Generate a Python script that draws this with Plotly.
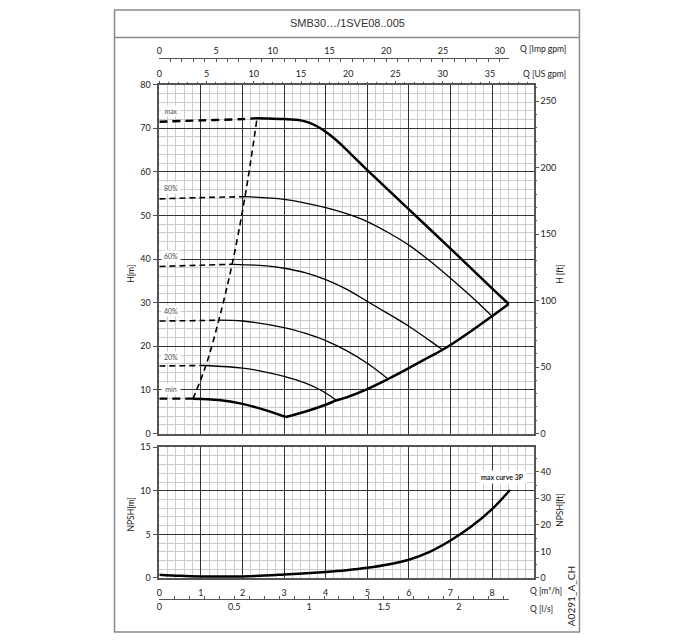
import plotly.graph_objects as go

W, H = 682, 640

# ---------------- data (Q in m3/h, H in m) ----------------
max_dash_q = [0.0, 1.0, 2.0, 2.35]
max_dash_h = [71.5, 71.8, 72.1, 72.3]
max_q = [2.35, 3.0, 3.4, 3.6, 3.8, 4.0, 4.2, 4.4, 4.6, 5.0, 6.0, 7.0, 8.0, 8.4]
max_h = [72.3, 72.1, 71.8, 71.3, 70.4, 69.2, 67.7, 66.0, 64.1, 60.4, 51.4, 42.4, 33.3, 29.7]

p80_dash_q = [0.0, 1.0, 2.06]
p80_dash_h = [53.8, 54.1, 54.3]
p80_q = [2.06, 3.0, 4.0, 4.5, 5.0, 5.5, 6.0, 6.5, 7.0, 7.5, 8.0]
p80_h = [54.3, 53.7, 51.8, 50.4, 48.6, 46.1, 43.2, 39.6, 35.6, 31.4, 26.9]

p60_dash_q = [0.0, 1.0, 1.75]
p60_dash_h = [38.3, 38.6, 38.8]
p60_q = [1.75, 2.5, 3.0, 3.5, 4.0, 4.5, 5.0, 5.5, 6.0, 6.5, 6.81]
p60_h = [38.8, 38.5, 37.9, 36.9, 35.3, 33.1, 30.3, 27.5, 24.6, 21.3, 19.2]

p40_dash_q = [0.0, 1.0, 1.43]
p40_dash_h = [25.8, 25.9, 26.0]
p40_q = [1.43, 2.0, 3.0, 3.5, 4.0, 4.5, 5.0, 5.5]
p40_h = [26.0, 25.8, 24.3, 23.0, 21.3, 19.0, 16.1, 12.5]

p20_dash_q = [0.0, 1.12]
p20_dash_h = [15.5, 15.6]
p20_q = [1.12, 2.0, 2.5, 3.0, 3.5, 3.83, 4.0, 4.26]
p20_h = [15.6, 15.0, 14.2, 13.1, 11.6, 10.2, 9.3, 7.6]

min_dash_q = [0.0, 0.81]
min_dash_h = [8.0, 8.0]
min_q = [0.81, 1.43, 2.0, 2.47, 3.04]
min_h = [8.0, 7.7, 6.8, 5.6, 3.8]

env_q = [3.04, 3.5, 4.0, 4.26, 4.5, 5.0, 5.5, 6.0, 6.5, 6.81, 7.0, 7.5, 8.0, 8.4]
env_h = [3.8, 5.0, 6.6, 7.6, 8.3, 10.2, 12.5, 15.0, 17.6, 19.2, 20.3, 23.5, 26.9, 29.7]

minflow_q = [0.81, 1.12, 1.43, 1.75, 2.06, 2.35]
minflow_h = [8.0, 15.6, 26.0, 38.8, 54.3, 72.3]

npsh_q = [0.0, 0.5, 1.0, 2.0, 3.0, 4.0, 4.5, 5.0, 5.5, 6.0, 6.5, 7.0, 7.5, 8.0, 8.43]
npsh_m = [0.38, 0.25, 0.18, 0.18, 0.4, 0.7, 0.9, 1.17, 1.55, 2.1, 3.0, 4.3, 5.9, 7.9, 10.1]

curve_labels = ["max", "80%", "60%", "40%", "20%", "min"]
curve_label_h = [74.0, 56.3, 40.7, 28.2, 17.6, 10.1]

h_ticks = [0, 10, 20, 30, 40, 50, 60, 70, 80]
hft_ticks = [0, 50, 100, 150, 200, 250]
npsh_ticks = [0, 5, 10, 15]
npshft_ticks = [0, 10, 20, 30, 40]
q_ticks = [0, 1, 2, 3, 4, 5, 6, 7, 8]
us_ticks = [0, 5, 10, 15, 20, 25, 30, 35]
imp_ticks = [0, 5, 10, 15, 20, 25, 30]
ls_ticks = [0.0, 0.5, 1.0, 1.5, 2.0]

# ---------------- units ----------------
M_TO_FT = 3.28084
M3H_TO_US = 4.40287
M3H_TO_IMP = 3.66614
M3H_TO_LS = 1 / 3.6
Q_RANGE = 9.0
Q_END = 8.4
H_RANGE = 80.0
NPSH_RANGE = 15.0

# ---------------- geometry (pixels -> paper) ----------------
def px(x):
    return x / W

def py(y):
    return 1 - y / H

X0, X1 = 157, 533
XD = [px(X0), px(X1)]
XD_END = [px(X0), px(X0 + (X1 - X0) * Q_END / Q_RANGE)]
YD_MAIN = [py(435), py(80)]
YD_NPSH = [py(582), py(449)]

FONT = "Lato, 'Open Sans', sans-serif"
TXT = "#222222"
MAJ = "#333333"
MIN = "#cccccc"
AX = "#555555"

fig = go.Figure()

def add(q, h, width, dash=None, xa="x", ya="y"):
    fig.add_trace(go.Scatter(
        x=q, y=h, mode="lines", xaxis=xa, yaxis=ya,
        line=dict(color="#000000", width=width, dash=dash, shape="spline", smoothing=1.0),
        hoverinfo="skip", showlegend=False))

DASH_T = "8px,5px"
DASH_N = "6px,4px"

add(max_dash_q, max_dash_h, 2.4, DASH_T)
add(p80_dash_q, p80_dash_h, 1.6, DASH_N)
add(p60_dash_q, p60_dash_h, 1.6, DASH_N)
add(p40_dash_q, p40_dash_h, 1.6, DASH_N)
add(p20_dash_q, p20_dash_h, 1.6, DASH_N)
add(min_dash_q, min_dash_h, 2.4, DASH_T)
add(minflow_q, minflow_h, 1.6, DASH_N)

add(p80_q, p80_h, 1.3)
add(p60_q, p60_h, 1.3)
add(p40_q, p40_h, 1.3)
add(p20_q, p20_h, 1.3)
add(max_q, max_h, 2.5)
add(min_q, min_h, 2.5)
add(env_q, env_h, 2.5)

add(npsh_q, npsh_m, 2.5, xa="x4", ya="y3")

# dummy traces to activate secondary axes
for xa, ya in [("x2", "y"), ("x", "y2"), ("x4", "y4"), ("x3", "y5"), ("x5", "y5")]:
    fig.add_trace(go.Scatter(x=[None], y=[None], xaxis=xa, yaxis=ya, mode="lines",
                             hoverinfo="skip", showlegend=False))

tickfont = dict(family=FONT, size=9, color=TXT)

grid_x = dict(showgrid=True, gridcolor=MAJ, gridwidth=1.1,
              minor=dict(dtick=0.2, showgrid=True, gridcolor=MIN, gridwidth=1, ticks=""))

fig.update_layout(
    width=W, height=H,
    margin=dict(l=0, r=0, t=0, b=0),
    paper_bgcolor="white", plot_bgcolor="rgba(0,0,0,0)",
    showlegend=False,
    xaxis=dict(domain=XD, range=[0, Q_RANGE], anchor="y", dtick=1,
               showticklabels=False, ticks="", zeroline=False,
               showline=True, linecolor=AX, linewidth=1.5, mirror=True, **grid_x),
    yaxis=dict(domain=YD_MAIN, range=[0, H_RANGE], anchor="x", tickvals=h_ticks,
               ticks="outside", ticklen=5, tickcolor=AX, tickfont=tickfont, zeroline=False,
               showline=True, linecolor=AX, linewidth=1.5, mirror=True,
               showgrid=True, gridcolor=MAJ, gridwidth=1.1,
               minor=dict(dtick=2, showgrid=True, gridcolor=MIN, gridwidth=1, ticks="")),
    yaxis2=dict(overlaying="y", side="right", anchor="x", range=[0, H_RANGE * M_TO_FT],
                tickvals=hft_ticks, ticks="outside", ticklen=4, tickcolor=AX,
                tickfont=tickfont, showgrid=False, zeroline=False,
                minor=dict(dtick=10, ticks="outside", ticklen=2, tickcolor=AX)),
    xaxis2=dict(overlaying="x", side="top", anchor="y", range=[0, Q_RANGE * M3H_TO_US],
                tickvals=us_ticks, ticks="outside", ticklen=3, tickcolor=AX,
                tickfont=tickfont, showgrid=False, zeroline=False,
                minor=dict(dtick=1, ticks="outside", ticklen=2, tickcolor=AX)),
    xaxis3=dict(domain=XD_END, anchor="free", position=py(53), side="top",
                range=[0, Q_END * M3H_TO_IMP], tickvals=imp_ticks,
                ticks="inside", ticklen=3, tickcolor=AX, tickfont=tickfont,
                showline=True, linecolor=AX, linewidth=1, showgrid=False, zeroline=False,
                minor=dict(dtick=1, ticks="inside", ticklen=3, tickcolor=AX)),
    yaxis5=dict(domain=[0, 0.001], visible=False, range=[0, 1]),
    xaxis4=dict(domain=XD, range=[0, Q_RANGE], anchor="y3", tickvals=q_ticks,
                ticks="", ticklabelstandoff=5, tickfont=tickfont, zeroline=False,
                showline=True, linecolor=AX, linewidth=1.5, mirror=True, **grid_x),
    yaxis3=dict(domain=YD_NPSH, range=[0, NPSH_RANGE], anchor="x4", tickvals=npsh_ticks,
                ticks="outside", ticklen=5, tickcolor=AX, tickfont=tickfont, zeroline=False,
                showline=True, linecolor=AX, linewidth=1.5, mirror=True,
                showgrid=True, gridcolor=MAJ, gridwidth=1.1,
                minor=dict(dtick=1, showgrid=True, gridcolor=MIN, gridwidth=1, ticks="")),
    yaxis4=dict(overlaying="y3", side="right", anchor="x4", range=[0, NPSH_RANGE * M_TO_FT],
                tickvals=npshft_ticks, ticks="outside", ticklen=4, tickcolor=AX,
                tickfont=tickfont, showgrid=False, zeroline=False,
                minor=dict(dtick=5, ticks="outside", ticklen=2, tickcolor=AX)),
    xaxis5=dict(domain=XD_END, anchor="free", position=py(603), side="bottom",
                range=[0, Q_END * M3H_TO_LS], tickvals=ls_ticks,
                ticks="inside", ticklen=3, tickcolor=AX, tickfont=tickfont,
                showline=True, linecolor=AX, linewidth=1, showgrid=False, zeroline=False,
                minor=dict(dtick=0.1, ticks="inside", ticklen=3, tickcolor=AX)),
)

# frame
FR = "#8a8a8a"
fig.add_shape(type="rect", xref="paper", yref="paper", x0=px(112), x1=px(579), y0=py(637), y1=py(4),
              line=dict(color=FR, width=1.5), layer="above")
fig.add_shape(type="line", xref="paper", yref="paper", x0=px(112), x1=px(579), y0=py(32), y1=py(32),
              line=dict(color=FR, width=1.5), layer="above")

ann = []
ann.append(dict(text="SMB30\u2026/1SVE08..005", xref="paper", yref="paper", x=px(346), y=py(17),
                yanchor="middle", showarrow=False,
                font=dict(family="Liberation Sans, Arial", size=11, color="#333")))

for lab, hv in zip(curve_labels, curve_label_h):
    ann.append(dict(text=lab, xref="x", yref="y", x=0, y=hv, xanchor="left", yanchor="middle",
                    xshift=1.5, showarrow=False, bgcolor="white", borderpad=0, width=18, height=10,
                    font=dict(family=FONT, size=7, color="#4a4a4a")))

ann.append(dict(text="<b>max curve 3P</b>", xref="x4", yref="y3", x=8.26, y=11.6,
                showarrow=False, bgcolor="white", borderpad=2,
                font=dict(family=FONT, size=7, color="#222")))

def side_label(text, x, y, angle=-90, size=8.5, anchor="center"):
    ann.append(dict(text=text, xref="paper", yref="paper", x=px(x), y=py(y), xanchor=anchor,
                    yanchor="middle", textangle=angle, showarrow=False,
                    font=dict(family=FONT, size=size, color=TXT)))

side_label("H[m]", 129, 272)
side_label("H [ft]", 560, 273)
side_label("NPSH[m]", 129, 517)
side_label("NPSH[ft]", 560, 513)
side_label("A0291_A_CH", 570, 600, size=10)
side_label("Q [Imp gpm]", 517, 44, angle=0, anchor="left")
side_label("Q [US gpm]", 520, 69, angle=0, anchor="left")
side_label("Q [m\u00b3/h]", 527, 595, angle=0, anchor="left")
side_label("Q [l/s]", 527, 614, angle=0, anchor="left")

fig.update_layout(annotations=ann)

POST = (
    "var s=document.createElement('style');"
    "s.innerHTML='html,body{margin:0 !important;padding:0 !important;overflow:hidden !important;}';"
    "document.head.appendChild(s);"
    "var d=document.getElementById('{plot_id}');"
    "if(d){d.style.position='fixed';d.style.left='0px';d.style.top='0px';}"
)

fig.write_html("out.html", config={"displayModeBar": False}, post_script=POST)
